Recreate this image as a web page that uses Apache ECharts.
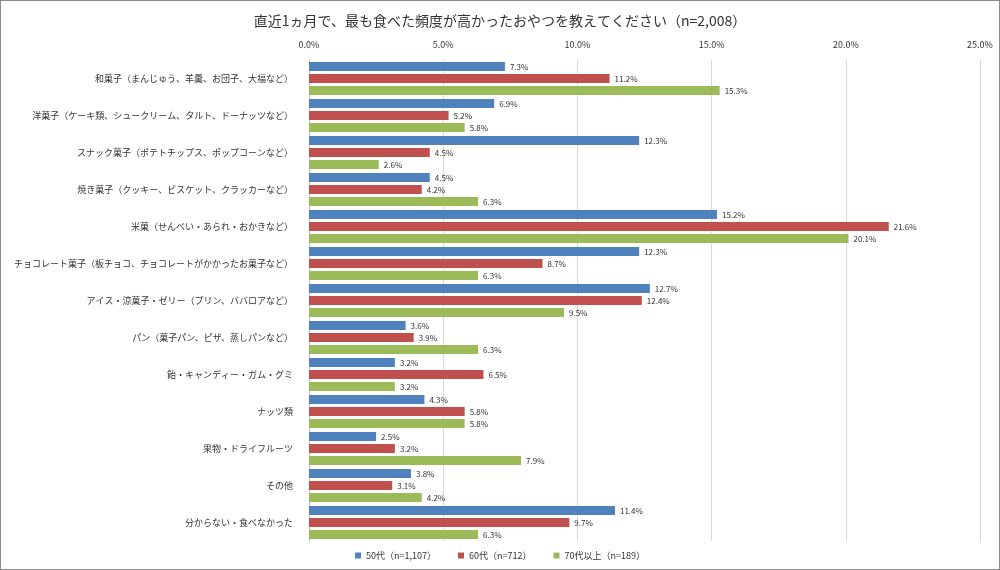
<!DOCTYPE html>
<html><head><meta charset="utf-8">
<script src="https://cdn.jsdelivr.net/npm/echarts@6/dist/echarts.min.js"></script>
<style>html,body{margin:0;padding:0;background:#fff}#c{width:1000px;height:570px;box-sizing:border-box;border:1px solid #8c8c8c}</style>
</head><body><div id="c"></div>
<script>
const categories = ['和菓子（まんじゅう、羊羹、お団子、大福など）','洋菓子（ケーキ類、シュークリーム、タルト、ドーナッツなど）','スナック菓子（ポテトチップス、ポップコーンなど）','焼き菓子（クッキー、ビスケット、クラッカーなど）','米菓（せんべい・あられ・おかきなど）','チョコレート菓子（板チョコ、チョコレートがかかったお菓子など）','アイス・涼菓子・ゼリー（プリン、ババロアなど）','パン（菓子パン、ピザ、蒸しパンなど）','飴・キャンディー・ガム・グミ','ナッツ類','果物・ドライフルーツ','その他','分からない・食べなかった'];
const seriesNames = ['50代（n=1,107）','60代（n=712）','70代以上（n=189）'];
const s50 = [7.3,6.9,12.3,4.5,15.2,12.3,12.7,3.6,3.2,4.3,2.5,3.8,11.4];
const s60 = [11.2,5.2,4.5,4.2,21.6,8.7,12.4,3.9,6.5,5.8,3.2,3.1,9.7];
const s70 = [15.3,5.8,2.6,6.3,20.1,6.3,9.5,6.3,3.2,5.8,7.9,4.2,6.3];
const colors = ['#4F81BD','#C0504D','#9BBB59'];
const font = '"Noto Sans CJK JP","Noto Sans",sans-serif';
const chart = echarts.init(document.getElementById('c'));
const mk = (name, data, i) => ({
  name, type:'bar', data, barWidth:9, barGap:'33%',
  itemStyle:{color:colors[i]},
  label:{show:true, position:'right', distance:5, fontSize:8, color:'#333', fontFamily:font, formatter:p=>p.value.toFixed(1)+'%'}
});
chart.setOption({
  animation:false,
  textStyle:{fontFamily:font},
  title:{text:'直近1ヵ月で、最も食べた頻度が高かったおやつを教えてください（n=2,008）', left:'center', top:8, textStyle:{fontSize:14, fontWeight:'normal', color:'#333', fontFamily:font}},
  legend:{bottom:4, left:'center', itemWidth:6, itemHeight:6, itemGap:22, icon:'rect', textStyle:{fontSize:9, color:'#333'}, data:seriesNames},
  grid:{left:308, right:19, top:59, height:481, containLabel:false, outerBoundsMode:'none'},
  xAxis:{type:'value', position:'top', min:0, max:25, interval:5,
    axisLabel:{fontSize:9, color:'#333', margin:11, formatter:v=>v.toFixed(1)+'%'},
    splitLine:{lineStyle:{color:'#d9d9d9'}}, axisLine:{show:false}, axisTick:{show:false}},
  yAxis:{type:'category', data:categories, inverse:true,
    axisLabel:{fontSize:9, color:'#333', margin:16},
    axisLine:{lineStyle:{color:'#bfbfbf'}}, axisTick:{show:false}},
  series:[mk(seriesNames[0], s50, 0), mk(seriesNames[1], s60, 1), mk(seriesNames[2], s70, 2)]
});
</script></body></html>
